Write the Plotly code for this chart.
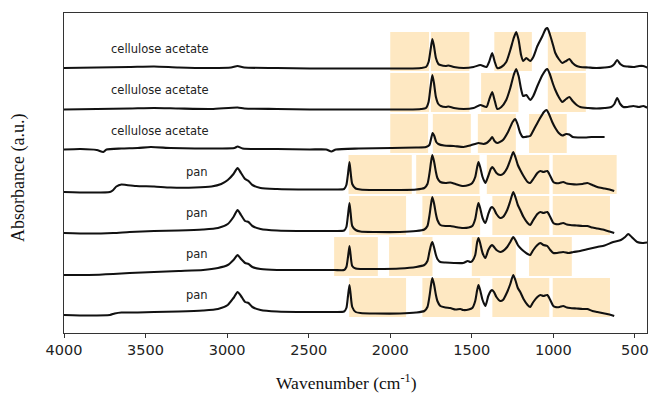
import plotly.graph_objects as go

# ---------------- data (wavenumber cm-1, relative absorbance a.u.) ----------------
ca1 = [(4000,1),(3799,1.5),(3598,2),(3448,2.5),(3297,1.5),(3096,1),(2976,1.5),(2936,3),(2895,1.5),(2694,1),
       (2494,0.5),(2293,0.5),(2092,0.5),(1891,0.5),(1811,1),(1781,2),(1765,7),(1753,19),(1742,30),(1732,23),
       (1720,11),(1705,5),(1693,4),(1660,3),(1643,3.5),(1610,2),(1550,1),(1489,2),(1448,4),(1410,2),(1394,7),
       (1375,16),(1359,7),(1344,1),(1319,2),(1289,7),(1264,19),(1243,31),(1228,37),(1213,29),(1198,14),(1185,8),
       (1166,11),(1142,8),(1123,12),(1098,23),(1067,33),(1047,40),(1037,41),(1022,35),(1002,24),(988,16),(967,10),
       (945,6),(922,8),(902,10),(882,6),(857,3),(835,2),(786,1.5),(736,1),(686,1.5),(646,2.5),(626,5),(609,9),
       (590,5),(571,3),(545,2.5),(510,2),(475,3),(449,3),(425,1.5),(410,1)]

ca2 = [(4000,0.5),(3799,1),(3598,1.5),(3448,2),(3297,1.5),(3096,1),(2936,2.5),(2895,1.5),(2694,1),(2494,0.5),
       (2192,0.5),(1891,0.5),(1811,1),(1781,2),(1765,8),(1753,23),(1742,35),(1732,27),(1720,13),(1705,6),(1690,4),
       (1660,3),(1643,3.5),(1610,2),(1550,1),(1489,2),(1448,5),(1410,3),(1394,10),(1375,18),(1359,9),(1344,1),
       (1319,3),(1289,10),(1264,22),(1243,35),(1228,41),(1213,34),(1198,21),(1185,14),(1166,15),(1142,10),(1123,14),
       (1098,24),(1067,35),(1047,40),(1037,41),(1022,36),(1002,26),(988,20),(967,13),(945,8),(922,11),(902,13),
       (882,9),(857,5),(835,3),(786,2),(736,1.5),(686,2),(646,3),(626,6),(609,12),(590,6),(571,3),(545,3),(510,4),
       (475,3),(449,4),(425,2.5),(410,2)]

ca3 = [(4000,1.5),(3899,2),(3799,1),(3759,-1),(3739,1.5),(3648,2.5),(3548,3),(3468,4),(3347,3),(3197,2.5),
       (3046,2.5),(2955,3),(2936,4.5),(2905,2.5),(2694,2),(2494,1.5),(2393,1.5),(2361,-0.5),(2333,1.5),(2192,2.5),
       (1991,3),(1841,3.5),(1781,4),(1760,6),(1750,12),(1740,18),(1730,15),(1718,9),(1705,7),(1670,5.5),(1610,5),
       (1550,4),(1509,5.5),(1459,8),(1429,7),(1409,8),(1389,11),(1375,14),(1361,10),(1344,8),(1309,11),(1278,19),
       (1250,29),(1234,32),(1220,27),(1203,18),(1188,14),(1173,14),(1158,14.5),(1142,15),(1118,22),(1088,31),
       (1058,39),(1042,41),(1027,37),(1007,29),(988,23),(967,18),(945,15.5),(922,17),(902,16.5),(882,14),(846,13.5),
       (806,13.5),(766,14),(726,14),(686,14)]

pan1 = [(4000,0),(3849,-0.5),(3719,0),(3698,2),(3679,5.5),(3648,7.5),(3618,7),(3558,6),(3448,5.5),(3347,4.5),
        (3197,4.5),(3096,5.5),(3036,8),(2996,12),(2961,18),(2936,24),(2915,19),(2890,13),(2869,11),(2845,7),(2795,4),
        (2694,3),(2494,2.5),(2343,2.5),(2283,3),(2269,7),(2259,18),(2250,30),(2243,20),(2233,8),(2212,3.5),(2183,2.5),
        (2092,2),(1941,2),(1841,2.5),(1791,4),(1772,8),(1760,18),(1750,30),(1742,37),(1732,31),(1720,20),(1711,14),
        (1693,10),(1662,9),(1632,9.5),(1600,8),(1553,6),(1519,7),(1497,9),(1479,15),(1467,25),(1459,30),(1449,25),
        (1434,15),(1417,9),(1399,16),(1384,23),(1375,25),(1364,23),(1349,19),(1326,17),(1309,18),(1283,24),(1264,32),
        (1246,40),(1233,35),(1218,27),(1203,22),(1183,16),(1158,10),(1142,9),(1123,13),(1098,19),(1080,21),(1061,20),
        (1037,21),(1019,16),(1000,10),(988,9),(962,9),(940,10),(917,8.5),(897,8),(857,7.5),(821,8),(792,9),(761,7),
        (731,5),(686,3.5),(656,2.5),(627,1)]

pan2 = [(4000,0),(3849,-0.5),(3698,0),(3598,1),(3448,2),(3297,2.5),(3147,3.5),(3056,5),(2996,9),(2961,16),
        (2936,23),(2915,18),(2890,12),(2869,11),(2845,7),(2795,4),(2694,2.5),(2494,2),(2343,2),(2283,2.5),(2269,6),
        (2259,18),(2250,30),(2243,20),(2233,7),(2212,3),(2183,1.5),(2092,1),(1941,1),(1841,2),(1791,3.5),(1772,7),
        (1760,17),(1750,29),(1742,36),(1732,30),(1720,19),(1711,13),(1693,8),(1662,7),(1632,7),(1600,6),(1553,5),
        (1519,5.5),(1497,7),(1479,14),(1467,25),(1459,30),(1449,25),(1434,15),(1417,10),(1399,19),(1384,25),(1375,26),
        (1364,24),(1349,19),(1326,15),(1309,16),(1283,23),(1264,32),(1246,41),(1233,36),(1218,28),(1203,23),(1183,16),
        (1158,10),(1142,8),(1123,13),(1098,19),(1080,21),(1061,20),(1037,21),(1019,16),(1000,10),(988,9),(962,9),
        (940,10),(917,8.5),(897,8),(857,7.5),(821,7),(792,7),(761,5.5),(731,4.5),(686,3),(656,1.5),(627,0)]

pan3 = [(4000,-1),(3849,-1),(3698,0),(3598,1),(3448,2),(3297,3),(3147,4),(3056,6),(2996,9),(2961,14),(2936,19),
        (2915,15),(2890,11),(2869,10),(2845,7),(2795,5),(2694,4),(2494,4),(2343,4),(2283,4),(2269,7),(2259,17),
        (2250,28),(2243,19),(2233,8),(2212,5.5),(2183,5),(2092,5),(1941,5.5),(1841,7),(1791,9),(1772,13),(1760,22),
        (1750,29),(1742,32),(1732,27),(1720,19),(1711,15),(1693,12),(1662,11.5),(1610,11),(1553,11),(1525,13),
        (1509,12),(1497,13),(1479,19),(1467,32),(1459,36),(1449,31),(1434,21),(1417,16),(1399,24),(1384,28),(1375,29),
        (1364,27),(1349,24),(1326,22),(1309,23),(1283,27),(1264,32),(1246,37),(1233,34),(1218,29),(1203,26),(1183,23),
        (1158,20),(1142,19),(1123,24),(1098,29),(1080,31),(1061,29),(1037,28),(1019,24),(1000,21),(977,21),(940,22),
        (907,21),(877,22),(836,23),(786,25),(731,27),(686,28.5),(633,32),(586,34),(560,37),(541,40),(520,37),(486,32),
        (455,31),(425,31.5),(410,31)]

pan4 = [(4000,0),(3849,-0.5),(3719,0),(3689,1.5),(3648,2.5),(3548,2.5),(3448,3),(3297,3.5),(3147,4.5),(3056,6),
        (2996,10),(2961,17),(2936,23),(2915,19),(2890,13),(2869,12),(2845,8),(2795,5),(2694,3.5),(2494,3),(2343,3),
        (2283,3.5),(2269,7),(2259,19),(2250,30),(2243,21),(2233,8),(2212,3),(2183,2),(2092,1.5),(1941,1.5),(1841,2.5),
        (1791,4),(1772,8),(1760,18),(1750,30),(1742,37),(1732,31),(1720,20),(1711,14),(1693,9),(1662,7.5),(1632,7),
        (1600,5.5),(1570,6),(1553,5),(1519,5.5),(1497,7),(1479,14),(1467,25),(1459,30),(1449,25),(1434,15),(1417,9),
        (1399,19),(1384,24),(1375,25),(1364,23),(1349,18),(1326,14),(1309,15),(1283,23),(1264,31),(1246,40),(1233,35),
        (1218,27),(1203,23),(1183,16),(1158,10),(1142,8),(1123,13),(1098,18),(1080,20),(1061,19),(1037,20),(1019,15),
        (1000,9),(988,8),(962,8),(940,9),(917,7.5),(897,7),(857,6.5),(821,6),(792,6),(761,4),(731,3),(686,1.5),
        (656,0.5),(627,-1)]

sample_labels = ["cellulose acetate", "cellulose acetate", "cellulose acetate", "pan", "pan", "pan", "pan"]
spectra = [ca1, ca2, ca3, pan1, pan2, pan3, pan4]

# highlighted wavenumber bands for each spectrum (start, end)
bands_ca1 = [(2000, 1762), (1751, 1515), (1362, 1132), (1034, 801)]
bands_ca2 = [(2000, 1762), (1751, 1515), (1443, 1214), (1034, 801)]
bands_ca3 = [(2000, 1768), (1739, 1506), (1463, 1230), (1149, 918)]
bands_pan1 = [(2256, 1868), (1841, 1453), (1408, 1025), (1004, 612)]
bands_pan2 = [(2252, 1903), (1803, 1449), (1374, 1025), (1004, 653)]
bands_pan3 = [(2344, 2076), (2007, 1741), (1500, 1230), (1149, 887)]
bands_pan4 = [(2252, 1903), (1803, 1449), (1374, 1025), (1004, 653)]
bands = [bands_ca1, bands_ca2, bands_ca3, bands_pan1, bands_pan2, bands_pan3, bands_pan4]

x_ticks = [4000, 3500, 3000, 2500, 2000, 1500, 1000, 500]

# ---------------- layout / styling ----------------
offsets = [264, 223, 182, 141, 100, 59, 18]   # vertical stacking (top to bottom)
band_lo, band_hi = -2, 37
label_x = {"cellulose acetate": 3410, "pan": 3182}
band_color = "rgb(254,232,194)"

fig = go.Figure()
shapes = []
annotations = []
for spec, off, bl, lab in zip(spectra, offsets, bands, sample_labels):
    xs = [p[0] for p in spec]
    ys = [p[1] + off for p in spec]
    fig.add_trace(go.Scatter(x=xs, y=ys, mode="lines",
                             line=dict(color="#111111", width=2.1, shape="spline", smoothing=0.6),
                             showlegend=False, hoverinfo="skip"))
    for (a, b) in bl:
        shapes.append(dict(type="rect", xref="x", yref="y", x0=a, x1=b,
                           y0=off + band_lo, y1=off + band_hi,
                           fillcolor=band_color, line=dict(width=0), layer="below"))
    annotations.append(dict(x=label_x[lab], y=off + 20, xref="x", yref="y", text=lab,
                            showarrow=False, xanchor="center", yanchor="middle",
                            font=dict(family="DejaVu Sans", size=11.5, color="#222222")))

annotations.append(dict(x=0.485, y=-0.152, xref="paper", yref="paper",
                        text="Wavenumber (cm<sup>-1</sup>)", showarrow=False,
                        xanchor="center", yanchor="middle",
                        font=dict(family="Liberation Serif", size=17.5, color="#111111")))
annotations.append(dict(x=-0.079, y=0.484, xref="paper", yref="paper",
                        text="Absorbance (a.u.)", showarrow=False, textangle=-90,
                        xanchor="center", yanchor="middle",
                        font=dict(family="Liberation Serif", size=18, color="#111111")))

fig.update_layout(
    width=650, height=394,
    margin=dict(l=64, r=3, t=13, b=61, autoexpand=False),
    paper_bgcolor="white", plot_bgcolor="white",
    shapes=shapes, annotations=annotations,
    xaxis=dict(range=[4000, 426], tickvals=x_ticks, ticktext=[str(t) for t in x_ticks],
               showgrid=False, zeroline=False, showline=True, linecolor="#333333", linewidth=1,
               mirror=True, ticks="outside", ticklen=4, tickwidth=1, tickcolor="#333333",
               automargin=False,
               tickfont=dict(family="DejaVu Sans", size=14.5, color="#222222")),
    yaxis=dict(range=[0, 320], showticklabels=False, showgrid=False, zeroline=False,
               showline=True, linecolor="#333333", linewidth=1, mirror=True, ticks="",
               automargin=False),
)

fig.write_html("out.html", config={"displayModeBar": False},
               post_script="document.body.style.margin='0px';document.body.style.overflow='hidden';")
